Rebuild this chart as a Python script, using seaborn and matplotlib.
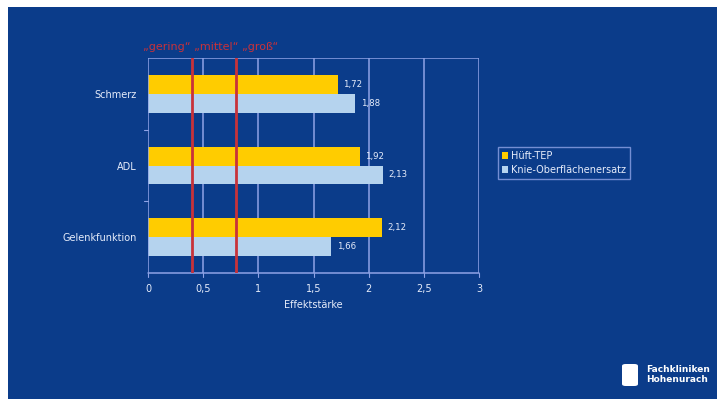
import matplotlib
matplotlib.use("Agg")
import matplotlib.pyplot as plt
import matplotlib.patches as mpatches
import seaborn as sns
import pandas as pd

categories = ["Schmerz", "ADL", "Gelenkfunktion"]
series = ["Hüft-TEP", "Knie-Oberflächenersatz"]
hueft_tep = [1.72, 1.92, 2.12]
knie_oe = [1.88, 2.13, 1.66]
x_ticks = [0, 0.5, 1, 1.5, 2, 2.5, 3]
x_tick_labels = ["0", "0,5", "1", "1,5", "2", "2,5", "3"]
thresholds = [0.4, 0.8]
threshold_text = "„gering“ „mittel“ „groß“"
x_label = "Effektstärke"

BG = "#0b3c8a"
YELLOW = "#ffcc00"
LIGHT = "#b5d3ee"
GRID = "#8fa3e6"
TXT = "#e6ecfa"
RED = "#c8323a"
FS = 7.0

df = pd.DataFrame({
    "Kategorie": categories * 2,
    "Gruppe": [series[0]] * 3 + [series[1]] * 3,
    "Wert": hueft_tep + knie_oe,
})

sns.set_theme(style="white")
plt.rcParams["font.family"] = ["DejaVu Sans"]

fig = plt.figure(figsize=(7.17, 3.99), dpi=100, facecolor="white")
fig.patches.append(mpatches.Rectangle((8 / 717, 0), 1, 1 - 7 / 399,
                                      transform=fig.transFigure,
                                      facecolor=BG, edgecolor="none", zorder=-10))

ax = fig.add_axes([148 / 717, 1 - 273 / 399, 331 / 717, 215 / 399])
ax.set_facecolor(BG)

sns.barplot(data=df, y="Kategorie", x="Wert", hue="Gruppe", order=categories,
            hue_order=series, palette=[YELLOW, LIGHT], width=0.53,
            orient="h", ax=ax, saturation=1, edgecolor="none", legend=True)

ax.set_xlim(0, 3)
ax.set_ylim(2.5, -0.5)
ax.set_xticks(x_ticks)
ax.set_xticklabels(x_tick_labels, color=TXT, fontsize=FS)
ax.set_yticks([0, 1, 2])
ax.set_yticklabels(categories, color=TXT, fontsize=FS)
ax.tick_params(axis="both", length=0, pad=8)
ax.set_xlabel(x_label, color=TXT, fontsize=FS, labelpad=4)
ax.set_ylabel("")

for xv in x_ticks[1:]:
    ax.axvline(xv, color=GRID, lw=1.1, zorder=0.5)
for sp in ax.spines.values():
    sp.set_visible(False)
ax.axhline(-0.5, color=GRID, lw=1.1, zorder=0.5)
ax.axhline(2.5, color=GRID, lw=1.1, zorder=3, clip_on=False)
ax.axvline(0, color=GRID, lw=1.1, zorder=3)

# tick marks on the axes
for xv in x_ticks:
    ax.plot([xv, xv], [2.5, 2.56], color=GRID, lw=0.8, clip_on=False)
for yv in [0.5, 1.5]:
    ax.plot([0, -0.04], [yv, yv], color=GRID, lw=0.8, clip_on=False)

for cont in ax.containers:
    ax.bar_label(cont, labels=[f"{v:.2f}".replace(".", ",") for v in cont.datavalues],
                 color=TXT, fontsize=6.2, padding=4)

for t in thresholds:
    ax.axvline(t, color=RED, lw=2, zorder=4)
fig.text(143 / 717, 1 - 47 / 399, threshold_text, color=RED, fontsize=8,
         va="center", ha="left")

leg = ax.legend(loc="upper left", bbox_to_anchor=(1.042, 0.61), fontsize=FS,
                frameon=True, fancybox=False, handlelength=0.7, handleheight=0.7,
                handletextpad=0.3, borderpad=0.4, labelspacing=0.45)
leg.get_frame().set_facecolor(BG)
leg.get_frame().set_edgecolor(GRID)
leg.get_frame().set_linewidth(1)
for txt in leg.get_texts():
    txt.set_color(TXT)

# logo
fig.patches.append(mpatches.FancyBboxPatch((622 / 717, 1 - 386 / 399), 16 / 717, 22 / 399,
                                           boxstyle="round,pad=0,rounding_size=0.005",
                                           transform=fig.transFigure, facecolor="white",
                                           edgecolor="none"))
fig.text(646 / 717, 1 - 369 / 399, "Fachkliniken", color="white", fontsize=6.5,
         fontweight="bold", va="center", ha="left")
fig.text(646 / 717, 1 - 380 / 399, "Hohenurach", color="white", fontsize=6.5,
         fontweight="bold", va="center", ha="left")

fig.savefig("out.png", dpi=100, facecolor="white")
